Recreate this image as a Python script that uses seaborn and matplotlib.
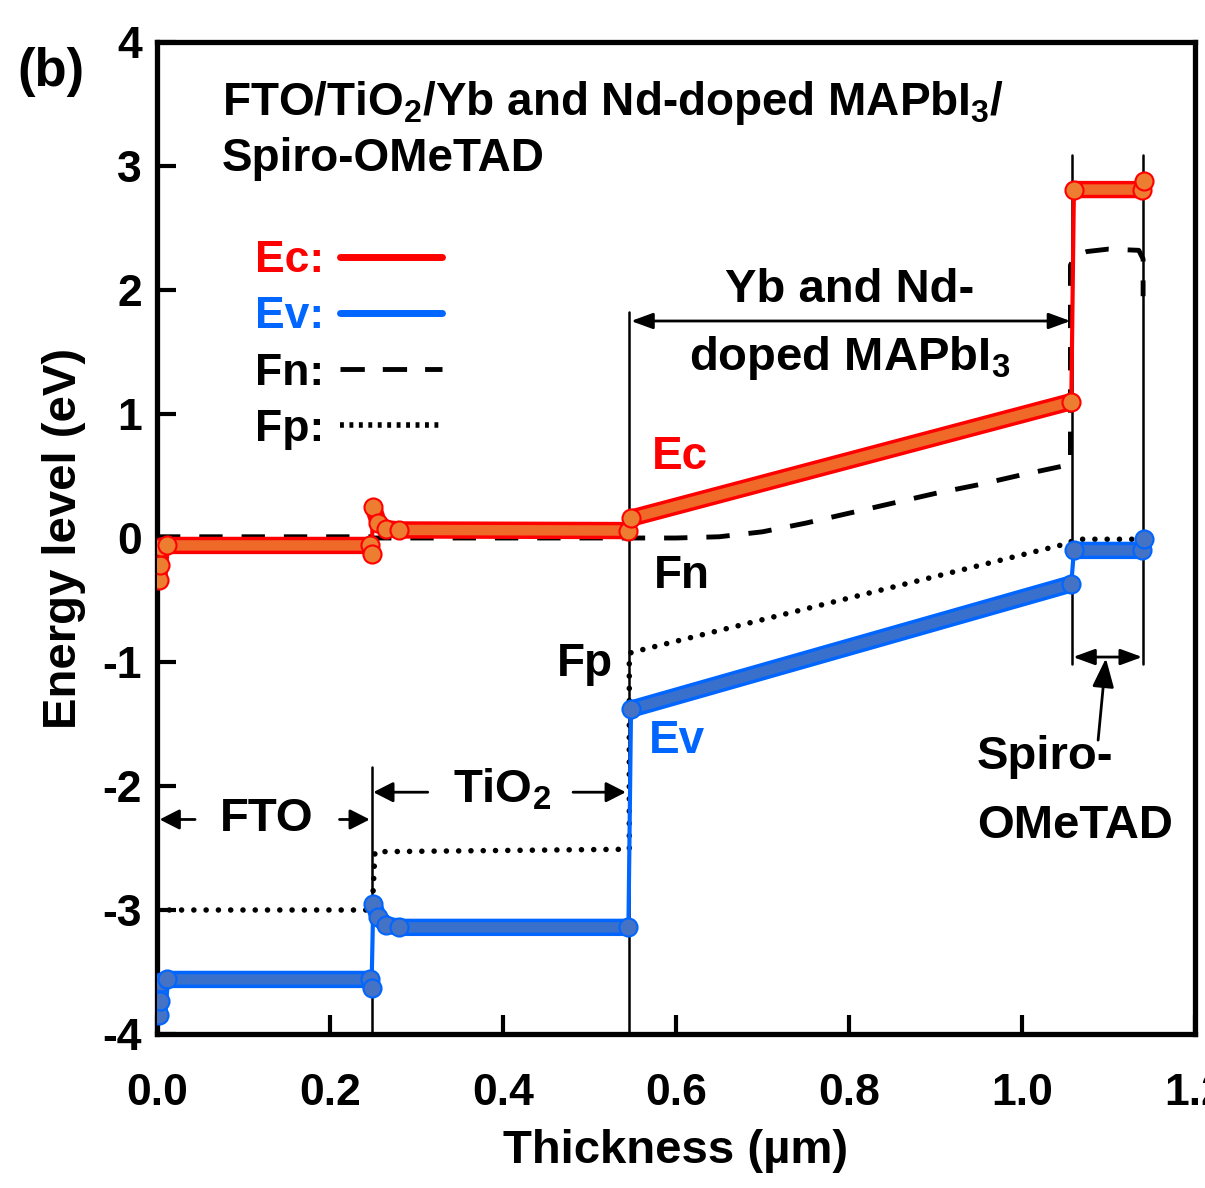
import matplotlib
matplotlib.use("Agg")
import matplotlib.pyplot as plt
import seaborn as sns
import pandas as pd
from matplotlib.lines import Line2D

# ---------------- data ----------------
# Conduction band Ec, per layer
ec_fto_x = [0.002, 0.003, 0.005, 0.012, 0.246, 0.248]
ec_fto_y = [-0.34, -0.22, -0.07, -0.06, -0.06, -0.13]
ec_tio2_x = [0.250, 0.256, 0.265, 0.280, 0.545]
ec_tio2_y = [0.25, 0.12, 0.075, 0.065, 0.06]
ec_pvk_x = [0.548, 1.057]
ec_pvk_y = [0.16, 1.10]
ec_spiro_x = [1.060, 1.139, 1.141]
ec_spiro_y = [2.81, 2.81, 2.88]

# Valence band Ev, per layer
ev_fto_x = [0.002, 0.003, 0.005, 0.012, 0.246, 0.248]
ev_fto_y = [-3.85, -3.73, -3.58, -3.56, -3.56, -3.63]
ev_tio2_x = [0.250, 0.256, 0.265, 0.280, 0.545]
ev_tio2_y = [-2.95, -3.06, -3.12, -3.14, -3.14]
ev_pvk_x = [0.548, 1.057]
ev_pvk_y = [-1.38, -0.37]
ev_spiro_x = [1.060, 1.139, 1.141]
ev_spiro_y = [-0.10, -0.10, -0.01]

# Quasi-Fermi levels
fn_x = [0.0, 0.248, 0.250, 0.546, 0.60, 0.65, 0.70, 0.75, 0.80, 0.85, 0.90,
        0.95, 1.00, 1.054, 1.056, 1.056, 1.062, 1.075, 1.10, 1.135, 1.140, 1.140]
fn_y = [0.01, 0.01, 0.0, 0.0, 0.0, 0.01, 0.05, 0.12, 0.20, 0.28, 0.36,
        0.43, 0.51, 0.59, 0.60, 2.20, 2.28, 2.31, 2.33, 2.32, 2.25, 1.95]
fp_x = [0.0, 0.247, 0.249, 0.252, 0.546, 0.546, 0.55, 1.055, 1.06, 1.14]
fp_y = [-3.0, -3.0, -2.97, -2.53, -2.51, -0.93, -0.92, -0.04, -0.01, -0.01]

# layer boundaries
layer_edges = [0.0, 0.248, 0.546, 1.058, 1.140]

legend_labels = ["Ec:", "Ev:", "Fn:", "Fp:"]
x_ticks = [0.0, 0.2, 0.4, 0.6, 0.8, 1.0, 1.2]
y_ticks = [-4, -3, -2, -1, 0, 1, 2, 3, 4]

# ---------------- style ----------------
sns.set_style("ticks")
plt.rcParams["font.family"] = ["Liberation Sans", "DejaVu Sans"]
plt.rcParams["font.weight"] = "bold"
plt.rcParams["axes.labelweight"] = "bold"
plt.rcParams["text.color"] = "black"
plt.rcParams["axes.labelcolor"] = "black"
plt.rcParams["axes.edgecolor"] = "black"
plt.rcParams["xtick.color"] = "black"
plt.rcParams["ytick.color"] = "black"
plt.rcParams["mathtext.fontset"] = "custom"
plt.rcParams["mathtext.rm"] = "Liberation Sans:bold"
plt.rcParams["mathtext.it"] = "Liberation Sans:bold"
plt.rcParams["mathtext.bf"] = "Liberation Sans:bold"

RED = "#FF0000"
ORANGE = "#ED7D31"
BLUE = "#0066FF"
STEEL = "#4472C4"

fig = plt.figure(figsize=(12.05, 11.88), dpi=100)
ax = fig.add_axes([157 / 1205, 1 - 1034 / 1188, (1195 - 157) / 1205, (1034 - 42) / 1188])

# layer boundary lines (thin black)
bnd = dict(color="black", lw=1.8, zorder=1)
ax.plot([layer_edges[1]] * 2, [-1.85, -4], **bnd)
ax.plot([layer_edges[2]] * 2, [1.82, -4], **bnd)
ax.plot([layer_edges[3]] * 2, [3.09, -1.02], **bnd)
ax.plot([layer_edges[4]] * 2, [3.09, -1.02], **bnd)

# Fermi levels
sns.lineplot(x=fn_x, y=fn_y, ax=ax, color="black", lw=3.5, sort=False,
             estimator=None, zorder=2).lines[-1].set_dashes([4.8, 3.9])
fpl = sns.lineplot(x=fp_x, y=fp_y, ax=ax, color="black", lw=4.0, sort=False,
                   estimator=None, zorder=2).lines[-1]
fpl.set_dashes([0.01, 2.2])
fpl.set_dash_capstyle("round")


def band(xs_list, ys_list, edge, face):
    allx = sum(xs_list, [])
    ally = sum(ys_list, [])
    sns.lineplot(x=allx, y=ally, ax=ax, color=edge, lw=3, sort=False,
                 estimator=None, zorder=3)
    for xs, ys in zip(xs_list, ys_list):
        sns.lineplot(x=xs, y=ys, ax=ax, color=edge, lw=12.5, sort=False,
                     estimator=None, zorder=4, solid_capstyle="round",
                     solid_joinstyle="round")
        sns.lineplot(x=xs, y=ys, ax=ax, color=face, lw=7.5, sort=False,
                     estimator=None, zorder=5, solid_capstyle="round",
                     solid_joinstyle="round", alpha=0.85)
        sns.lineplot(x=xs, y=ys, ax=ax, color=edge, lw=0, marker="o",
                     markersize=13, markerfacecolor=face, markeredgecolor=edge,
                     markeredgewidth=1.5, sort=False, estimator=None, zorder=6)


band([ec_fto_x, ec_tio2_x, ec_pvk_x, ec_spiro_x],
     [ec_fto_y, ec_tio2_y, ec_pvk_y, ec_spiro_y], RED, ORANGE)
band([ev_fto_x, ev_tio2_x, ev_pvk_x, ev_spiro_x],
     [ev_fto_y, ev_tio2_y, ev_pvk_y, ev_spiro_y], BLUE, STEEL)

# ---------------- axes ----------------
ax.set_xlim(0, 1.2)
ax.set_ylim(-4, 4)
ax.set_xticks(x_ticks)
ax.set_xticklabels([f"{v:.1f}" for v in x_ticks])
ax.set_yticks(y_ticks)
ax.set_yticklabels([f"{v}" for v in y_ticks])
ax.tick_params(axis="both", direction="in", length=14, width=3, labelsize=32,
               colors="black")
ax.tick_params(axis="x", pad=28)
ax.tick_params(axis="y", pad=11)
for s in ax.spines.values():
    s.set_linewidth(3.8)
    s.set_edgecolor("black")
    s.set_visible(True)
ax.set_xlabel("Thickness (µm)", fontsize=34, labelpad=11, color="black")
ax.set_ylabel("Energy level (eV)", fontsize=34, labelpad=12, color="black")

# ---------------- texts ----------------
ax.text(0.075, 3.51, "FTO/TiO$_2$/Yb and Nd-doped MAPbI$_3$/", fontsize=33,
        va="center", ha="left")
ax.text(0.075, 3.06, "Spiro-OMeTAD", fontsize=33, va="center", ha="left")

ax.text(0.605, 0.65, "Ec", color=RED, fontsize=33, ha="center", va="center")
ax.text(0.607, -0.31, "Fn", color="black", fontsize=33, ha="center", va="center")
ax.text(0.495, -1.02, "Fp", color="black", fontsize=33, ha="center", va="center")
ax.text(0.601, -1.64, "Ev", color=BLUE, fontsize=33, ha="center", va="center")

arr = dict(arrowstyle="-|>,head_length=0.55,head_width=0.28", color="black",
           lw=2, mutation_scale=22, shrinkA=0, shrinkB=0)
darr = dict(arrowstyle="<|-|>,head_length=0.6,head_width=0.22", color="black",
            lw=2, mutation_scale=22, shrinkA=0, shrinkB=0)

# FTO
ax.text(0.127, -2.27, "FTO", fontsize=34, ha="center", va="center")
ax.annotate("", xy=(0.003, -2.27), xytext=(0.044, -2.27), arrowprops=arr)
ax.annotate("", xy=(0.246, -2.27), xytext=(0.211, -2.27), arrowprops=arr)
# TiO2
ax.text(0.399, -2.03, "TiO$_2$", fontsize=34, ha="center", va="center")
ax.annotate("", xy=(0.250, -2.05), xytext=(0.313, -2.05), arrowprops=arr)
ax.annotate("", xy=(0.542, -2.05), xytext=(0.481, -2.05), arrowprops=arr)
# perovskite
ax.annotate("", xy=(0.548, 1.75), xytext=(1.056, 1.75), arrowprops=darr)
ax.text(0.801, 2.0, "Yb and Nd-", fontsize=34, ha="center", va="center")
ax.text(0.801, 1.45, "doped MAPbI$_3$", fontsize=34, ha="center", va="center")
# spiro
ax.annotate("", xy=(1.059, -0.96), xytext=(1.139, -0.96), arrowprops=darr)
ax.annotate("", xy=(1.097, -0.97), xytext=(1.088, -1.63),
            arrowprops=dict(arrowstyle="-|>,head_length=0.8,head_width=0.3",
                            color="black", lw=2, mutation_scale=22,
                            shrinkA=0, shrinkB=0))
ax.text(0.948, -1.77, "Spiro-", fontsize=34, ha="left", va="center")
ax.text(0.948, -2.32, "OMeTAD", fontsize=34, ha="left", va="center")

# legend (label left of handle)
handles = [
    Line2D([], [], color=RED, lw=5),
    Line2D([], [], color=BLUE, lw=5),
    Line2D([], [], color="black", lw=3.5, dashes=[5, 3.7]),
    Line2D([], [], color="black", lw=4.0, dashes=[0.7, 1.0]),
]
leg = ax.legend(handles, legend_labels, loc="upper left", markerfirst=False,
                frameon=False, fontsize=32, handlelength=2.3,
                handletextpad=0.35, labelspacing=0.34,
                bbox_to_anchor=(0.077, 0.818), borderaxespad=0)
for t, c in zip(leg.get_texts(), [RED, BLUE, "black", "black"]):
    t.set_color(c)

fig.text(0.042, 0.939, "(b)", fontsize=38, ha="center", va="center")

fig.savefig("out.png", dpi=100)
